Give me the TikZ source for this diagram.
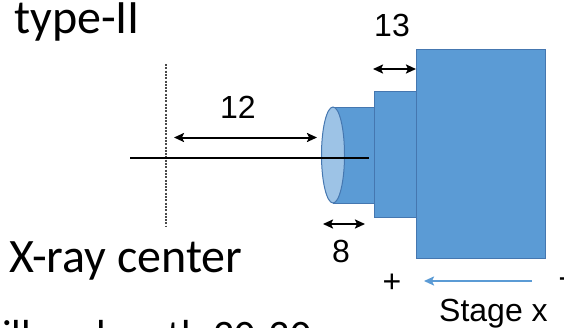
\documentclass[tikz,border=0pt]{standalone}
\usepackage{fontspec}
\setmainfont{Carlito}
\newfontfamily\arialf{Liberation Sans}
\usetikzlibrary{arrows.meta,shapes.geometric}
\definecolor{boxblue}{HTML}{5B9BD5}
\definecolor{boxedge}{HTML}{4577B0}
\definecolor{faceblue}{HTML}{9DC3E6}
\definecolor{dotgray}{HTML}{4A4A4A}
\begin{document}
\begin{tikzpicture}[x=1pt,y=-1pt,
  block/.style={draw=boxedge, line width=1pt, fill=boxblue, rectangle, inner sep=0pt},
  bigtext/.style={inner sep=0pt, font=\fontsize{48}{48}\selectfont},
  lbl/.style={inner sep=0pt, font=\arialf\fontsize{32}{32}\selectfont},
  dimarrow/.style={line width=2pt, {Stealth[length=10pt,width=9pt,inset=2pt]}-{Stealth[length=10pt,width=9pt,inset=2pt]}},
  axisline/.style={line width=2.1pt, black},
  centerline/.style={line width=2.6pt, dotgray, dash pattern=on 2pt off 1.3pt},
  stagearrow/.style={line width=2pt, boxblue, {Stealth[length=10pt,width=9pt,inset=2pt]}-}
]
\useasboundingbox (0,0) rectangle (564,327);

% texts
\node[bigtext, anchor=base west] (title) at (14,33) {type-II};
\node[bigtext, anchor=base west] (xray) at (9,272) {X-ray center};
\node[inner sep=0pt, anchor=base west, font=\fontsize{42}{42}\selectfont] (illum) at (2,349) {illum length 20-30};

% blocks
\node[block, minimum width=129pt, minimum height=209pt] (big) at (480.5,153.5) {};
\node[block, minimum width=42pt, minimum height=126pt] (mid) at (395,154) {};
% cylinder
\fill[boxblue] (333,107) rectangle (374,203);
\draw[boxedge, line width=1pt] (333,107) -- (374,107);
\draw[boxedge, line width=1pt] (333,203) -- (374,203);
\node[draw=boxedge, line width=1pt, fill=faceblue, ellipse, inner sep=0pt, minimum width=23pt, minimum height=96pt] (face) at (333,155) {};

% dotted x-ray center line
\coordinate (ctop) at (166,64);
\coordinate (cbot) at (166,226);
\draw[centerline] (ctop) -- (cbot);

% axis line
\coordinate (axl) at (130,158);
\coordinate (axr) at (369,158);
\draw[axisline] (axl) -- (axr);

% dimension 12
\coordinate (d12l) at (174,137.5);
\coordinate (d12r) at (317,137.5);
\draw[dimarrow] (d12l) -- (d12r);
\node[lbl] (l12) at (238,107) {12};

% dimension 13
\coordinate (d13l) at (373,69);
\coordinate (d13r) at (416,69);
\draw[dimarrow] (d13l) -- (d13r);
\node[lbl] (l13) at (392,25) {13};

% dimension 8
\coordinate (d8l) at (323,224);
\coordinate (d8r) at (365,224);
\draw[dimarrow] (d8l) -- (d8r);
\node[lbl] (l8) at (341,251) {8};

% stage x
\node[lbl] (plus) at (392,283) {+};
\node[lbl] (minus) at (564,283) {-};
\coordinate (sa) at (424,281);
\coordinate (sb) at (532,281);
\draw[stagearrow] (sa) -- (sb);
\node[lbl, anchor=base west] (stage) at (439,321) {Stage x};
\end{tikzpicture}
\end{document}
